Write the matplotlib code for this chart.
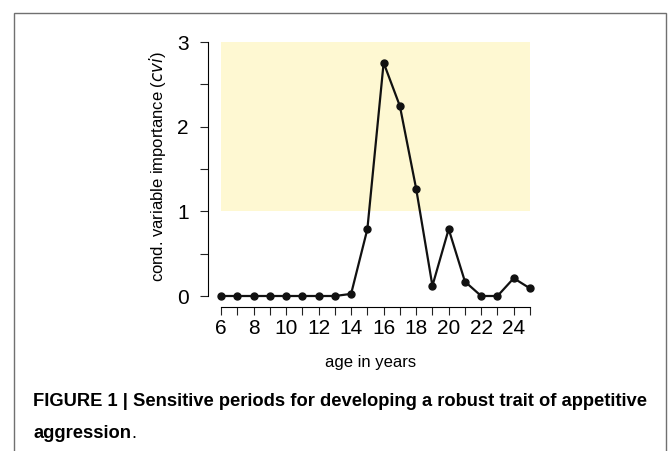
import matplotlib
matplotlib.use("Agg")
import matplotlib.pyplot as plt
from matplotlib.patches import Rectangle

plt.rcParams['font.family'] = ['Liberation Sans', 'DejaVu Sans']

ages = [6, 7, 8, 9, 10, 11, 12, 13, 14, 15, 16, 17, 18, 19, 20, 21, 22, 23, 24, 25]
cvi = [0, 0, 0, 0, 0, 0, 0, 0, 0.025, 0.79, 2.755, 2.243, 1.267, 0.12, 0.79, 0.17, 0, 0, 0.21, 0.09]
xtick_labels = [6, 8, 10, 12, 14, 16, 18, 20, 22, 24]
yticks_major = [0, 1, 2, 3]
yticks_minor = [0.5, 1.5, 2.5]
band_y = (1, 3)

W, H = 668, 451
fig = plt.figure(figsize=(W / 100, H / 100), dpi=100)

# frame
fig.patches.append(Rectangle((14 / W, -0.05), (666 - 14) / W, 1 - 13 / H + 0.05,
                             transform=fig.transFigure, fill=False,
                             edgecolor='#707070', linewidth=1.0))

ax = fig.add_axes([221 / W, 1 - 296 / H, (530 - 221) / W, (296 - 42) / H])
ax.set_xlim(ages[0], ages[-1])
ax.set_ylim(0, 3)
ax.patch.set_visible(False)

ax.fill_between([ages[0], ages[-1]], band_y[0], band_y[1], color='#FEF8D2', linewidth=0, zorder=0)
ax.plot(ages, cvi, color='#111111', linewidth=1.6, marker='o', markersize=5, clip_on=False, zorder=3)

for s in ['top', 'right']:
    ax.spines[s].set_visible(False)
ax.spines['left'].set_position(('outward', 13 * 0.72))
ax.spines['bottom'].set_position(('outward', 11 * 0.72))
ax.spines['left'].set_linewidth(0.8)
ax.spines['bottom'].set_linewidth(0.8)

ax.set_xticks(ages, minor=True)
ax.set_xticks(xtick_labels)
ax.set_xticklabels([str(v) for v in xtick_labels])
ax.set_yticks(yticks_major)
ax.set_yticks(yticks_minor, minor=True)
ax.tick_params(axis='both', which='both', length=6, width=0.8, direction='out', color='#222222')
ax.tick_params(axis='both', which='major', labelsize=15)
ax.tick_params(axis='y', which='major', pad=8)
ax.tick_params(axis='x', which='major', pad=3)

fig.text(371 / W, 1 - 363 / H, 'age in years', fontsize=12, ha='center', va='center')
fig.text(157.5 / W, 1 - 167 / H, r'cond. variable importance ($\mathit{cvi}$)', fontsize=12,
         rotation=90, ha='center', va='center')

fig.text(33 / W, 1 - 402 / H, 'FIGURE 1 | Sensitive periods for developing a robust trait of appetitive',
         fontsize=13.25, fontweight='bold', va='center', ha='left')
t2 = fig.text(33 / W, 1 - 434 / H, 'aggression', fontsize=13.25, fontweight='bold', va='center', ha='left')
fig.canvas.draw()
bb = t2.get_window_extent()
fig.text(bb.x1 / W, 1 - 434 / H, '.', fontsize=13.25, va='center', ha='left')

fig.savefig('out.png', dpi=100)
